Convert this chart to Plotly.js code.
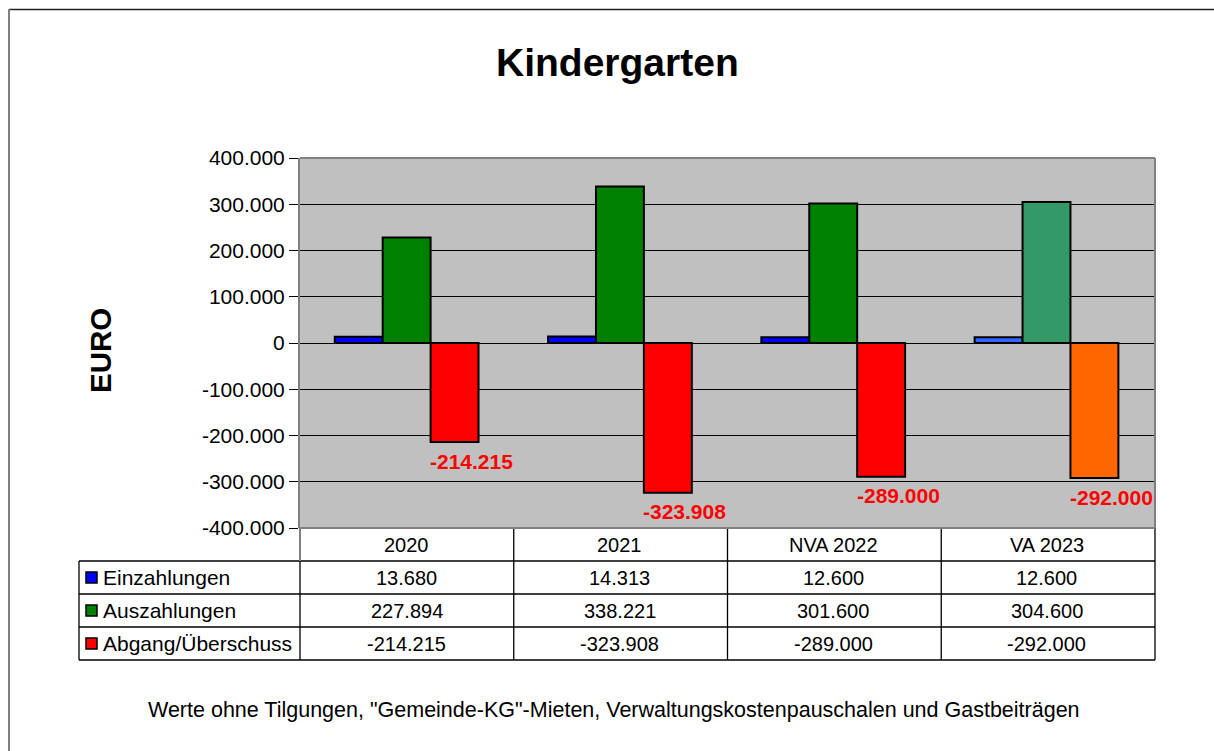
<!DOCTYPE html>
<html>
<head>
<meta charset="utf-8">
<script src="https://cdn.plot.ly/plotly-3.0.1.min.js"></script>
<style>html,body{margin:0;padding:0;background:#fff;}#chart{width:1214px;height:751px;}</style>
</head>
<body>
<div id="chart"></div>
<script>
// ---- data ----
const categories = ["2020", "2021", "NVA 2022", "VA 2023"];
const seriesNames = ["Einzahlungen", "Auszahlungen", "Abgang/Überschuss"];
const einzahlungen = [13680, 14313, 12600, 12600];
const auszahlungen = [227894, 338221, 301600, 304600];
const abgang = [-214215, -323908, -289000, -292000];
const tickValues = [-400000, -300000, -200000, -100000, 0, 100000, 200000, 300000, 400000];
const titleText = "Kindergarten";
const yTitle = "EURO";
const footnote = 'Werte ohne Tilgungen, "Gemeinde-KG"-Mieten, Verwaltungskostenpauschalen und Gastbeiträgen';

// ---- styles ----
const baseColors = ["#0000FF", "#008000", "#FF0000"];
const lastColors = ["#3366FF", "#339966", "#FF6600"];
const FONT = "Liberation Sans, Arial, sans-serif";

function fmt(v) {
  const s = String(Math.abs(Math.round(v))).replace(/\B(?=(\d{3})+(?!\d))/g, ".");
  return (v < 0 ? "-" : "") + s;
}

// pixel -> paper helpers (plot area: x 300..1155, y 158..528)
const L = 300, R = 1155, T = 158, B = 528;
const PX = p => (p - L) / (R - L);
const PY = p => (B - p) / (B - T);

const allSeries = [einzahlungen, auszahlungen, abgang];
const traces = allSeries.map((vals, s) => ({
  type: "bar",
  name: seriesNames[s],
  x: categories,
  y: vals,
  marker: {
    color: categories.map((c, i) => i === categories.length - 1 ? lastColors[s] : baseColors[s]),
    line: { color: "#000", width: 2 }
  },
  hoverinfo: "skip",
  showlegend: false
}));

const shapes = [];
const annotations = [];

// outer frame
shapes.push({ type: "line", xref: "paper", yref: "paper", x0: PX(9), x1: PX(1300), y0: PY(9.5), y1: PY(9.5), line: { color: "#222", width: 1.5 } });
shapes.push({ type: "line", xref: "paper", yref: "paper", x0: PX(9), x1: PX(9), y0: PY(9), y1: PY(900), line: { color: "#808080", width: 2 } });

// plot border top/right
shapes.push({ type: "line", xref: "paper", yref: "paper", x0: 0, x1: 1, y0: 1, y1: 1, line: { color: "#808080", width: 2 } });
shapes.push({ type: "line", xref: "paper", yref: "paper", x0: 1, x1: 1, y0: 0, y1: 1, line: { color: "#808080", width: 2 } });

// data table
const rowLines = [561, 594, 627, 660];
const colW = (R - L) / categories.length;
rowLines.forEach(py => {
  shapes.push({ type: "line", xref: "paper", yref: "paper", x0: PX(79), x1: 1, y0: PY(py), y1: PY(py), line: { color: "#000", width: 1.3 } });
});
for (let i = 1; i <= categories.length; i++) {
  shapes.push({ type: "line", xref: "paper", yref: "paper", x0: PX(L + colW * i), x1: PX(L + colW * i), y0: 0, y1: PY(660), line: { color: "#000", width: 1.3 } });
}
shapes.push({ type: "line", xref: "paper", yref: "paper", x0: 0, x1: 0, y0: PY(561), y1: PY(660), line: { color: "#000", width: 1.3 } });
shapes.push({ type: "line", xref: "paper", yref: "paper", x0: 0, x1: 0, y0: 0, y1: PY(561), line: { color: "#808080", width: 2 } });
shapes.push({ type: "line", xref: "paper", yref: "paper", x0: PX(79), x1: PX(79), y0: PY(561), y1: PY(660), line: { color: "#000", width: 1.3 } });
shapes.push({ type: "line", xref: "paper", yref: "paper", x0: 0, x1: 1, y0: 0, y1: 0, line: { color: "#808080", width: 2 } });

// header row
categories.forEach((c, i) => {
  annotations.push({ xref: "x", yref: "paper", x: i, y: PY(545), text: c, showarrow: false, xanchor: "center", yanchor: "middle", font: { family: FONT, size: 20, color: "#000" } });
});
// series rows
allSeries.forEach((vals, s) => {
  const cy = (rowLines[s] + rowLines[s + 1]) / 2;
  shapes.push({ type: "rect", xref: "paper", yref: "paper", x0: PX(86), x1: PX(97), y0: PY(cy - 5.5), y1: PY(cy + 5.5), fillcolor: baseColors[s], line: { color: "#000", width: 1.5 } });
  annotations.push({ xref: "paper", yref: "paper", x: PX(101), y: PY(cy), text: seriesNames[s], showarrow: false, xanchor: "left", yanchor: "middle", font: { family: FONT, size: 21, color: "#000" } });
  vals.forEach((v, i) => {
    annotations.push({ xref: "x", yref: "paper", x: i, y: PY(cy), text: fmt(v), showarrow: false, xanchor: "center", yanchor: "middle", font: { family: FONT, size: 20, color: "#000" } });
  });
});

// data labels for Abgang
abgang.forEach((v, i) => {
  annotations.push({ xref: "x", yref: "y", x: i, y: v, text: "<b>" + fmt(v) + "</b>", showarrow: false, xanchor: "center", yanchor: "middle", xshift: 65, yshift: -19, font: { family: FONT, size: 21, color: "#FF0000" } });
});

// title, y title, footnote
annotations.push({ xref: "paper", yref: "paper", x: PX(617), y: PY(62), text: "<b>" + titleText + "</b>", showarrow: false, xanchor: "center", yanchor: "middle", font: { family: FONT, size: 39, color: "#000" } });
annotations.push({ xref: "paper", yref: "paper", x: PX(100), y: PY(351), text: "<b>" + yTitle + "</b>", textangle: -90, showarrow: false, xanchor: "center", yanchor: "middle", font: { family: FONT, size: 29.5, color: "#000" } });
annotations.push({ xref: "paper", yref: "paper", x: PX(614), y: PY(710), text: footnote, showarrow: false, xanchor: "center", yanchor: "middle", font: { family: FONT, size: 21.5, color: "#000" } });

const layout = {
  width: 1214, height: 751,
  margin: { l: L, r: 1214 - R, t: T, b: 751 - B, pad: 0 },
  paper_bgcolor: "#FFFFFF",
  plot_bgcolor: "#C0C0C0",
  barmode: "group",
  bargap: 0.326,
  bargroupgap: 0,
  xaxis: { type: "category", showticklabels: false, showgrid: false, zeroline: false, showline: false, ticks: "", fixedrange: true },
  yaxis: {
    range: [-400000, 400000],
    tickvals: tickValues,
    ticktext: tickValues.map(fmt),
    showgrid: true, gridcolor: "#000", gridwidth: 1,
    zeroline: true, zerolinecolor: "#000", zerolinewidth: 1,
    showline: true, linecolor: "#808080", linewidth: 2,
    ticks: "outside", ticklen: 9, tickcolor: "#000", tickwidth: 1,
    tickfont: { family: FONT, size: 21, color: "#000" },
    fixedrange: true
  },
  shapes: shapes,
  annotations: annotations,
  showlegend: false
};

Plotly.newPlot("chart", traces, layout, { displayModeBar: false, staticPlot: true });
</script>
</body>
</html>
